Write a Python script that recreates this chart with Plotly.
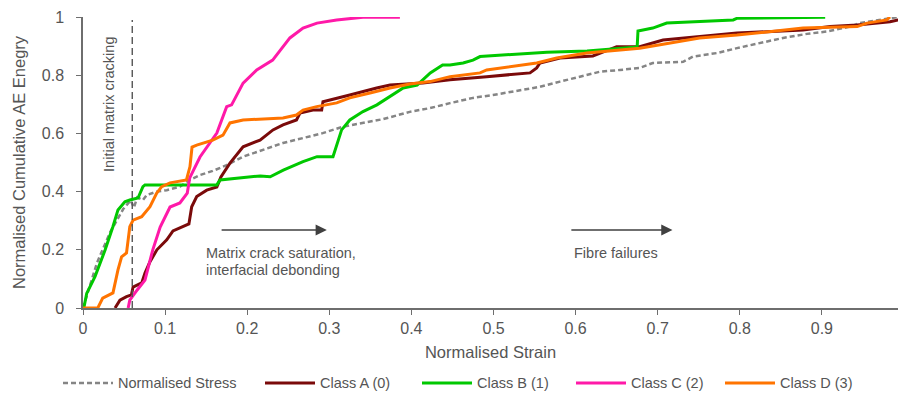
import plotly.graph_objects as go

# ---- data -----------------------------------------------------------------
stress_strain = [0, 0.017, 0.033, 0.049, 0.058, 0.062, 0.066, 0.073, 0.0776, 0.0898, 0.102,
                 0.118, 0.13, 0.1425, 0.158, 0.175, 0.195, 0.219, 0.2436, 0.268, 0.292,
                 0.3167, 0.341, 0.3654, 0.398, 0.4227, 0.447, 0.475, 0.4994, 0.5238,
                 0.5566, 0.581, 0.6054, 0.6297, 0.654, 0.678, 0.694, 0.731, 0.743, 0.772,
                 0.7966, 0.8246, 0.8526, 0.8818, 0.906, 0.934, 0.946, 0.983, 0.993]
stress_value = [0, 0.155, 0.26, 0.34, 0.37, 0.345, 0.38, 0.371, 0.388, 0.4, 0.405,
                0.417, 0.44, 0.457, 0.471, 0.491, 0.52, 0.543, 0.567, 0.584, 0.601,
                0.623, 0.636, 0.649, 0.674, 0.687, 0.704, 0.722, 0.732, 0.743,
                0.76, 0.778, 0.795, 0.812, 0.818, 0.825, 0.842, 0.846, 0.864, 0.876,
                0.893, 0.911, 0.928, 0.942, 0.95, 0.967, 0.979, 0.996, 1.0]

class_a_strain = [0.039, 0.045, 0.053, 0.059, 0.061, 0.0715, 0.0755, 0.0816, 0.09, 0.102,
                  0.1096, 0.122, 0.129, 0.1324, 0.1385, 0.1507, 0.163, 0.168, 0.179, 0.195,
                  0.2156, 0.2314, 0.2436, 0.26, 0.2643, 0.28, 0.2907, 0.2923, 0.309, 0.325,
                  0.3577, 0.374, 0.414, 0.447, 0.4917, 0.5445, 0.5526, 0.5566, 0.581,
                  0.621, 0.63, 0.65, 0.678, 0.7065, 0.7515, 0.7966, 0.877, 0.91, 0.943,
                  0.983, 0.993]
class_a_energy = [0, 0.027, 0.039, 0.045, 0.072, 0.086, 0.12, 0.159, 0.2, 0.234,
                  0.265, 0.279, 0.289, 0.348, 0.383, 0.405, 0.416, 0.45, 0.498, 0.554,
                  0.577, 0.612, 0.629, 0.646, 0.67, 0.68, 0.68, 0.709, 0.722, 0.732,
                  0.756, 0.766, 0.773, 0.784, 0.795, 0.808, 0.825, 0.842, 0.859,
                  0.866, 0.876, 0.898, 0.898, 0.921, 0.933, 0.945, 0.955, 0.967, 0.9725,
                  0.984, 0.99]

class_b_strain = [0.001, 0.0045, 0.0146, 0.027, 0.0365, 0.0426, 0.051, 0.057, 0.067, 0.073,
                  0.0755, 0.163, 0.167, 0.216, 0.228, 0.244, 0.268, 0.285, 0.3045, 0.315,
                  0.325, 0.341, 0.358, 0.374, 0.39, 0.407, 0.423, 0.438, 0.447, 0.463,
                  0.475, 0.4836, 0.516, 0.565, 0.614, 0.675, 0.676, 0.694, 0.711, 0.792,
                  0.797, 0.904]
class_b_energy = [0, 0.05, 0.108, 0.2, 0.28, 0.337, 0.365, 0.371, 0.378, 0.417,
                  0.423, 0.423, 0.44, 0.454, 0.451, 0.474, 0.503, 0.52, 0.52, 0.612,
                  0.646, 0.675, 0.698, 0.726, 0.756, 0.766, 0.808, 0.835, 0.835, 0.842,
                  0.852, 0.864, 0.869, 0.879, 0.883, 0.897, 0.952, 0.962, 0.979, 0.99,
                  0.996, 0.999]

class_c_strain = [0.055, 0.057, 0.066, 0.0755, 0.085, 0.094, 0.106, 0.118, 0.127, 0.13,
                  0.1425, 0.163, 0.175, 0.181, 0.195, 0.2116, 0.231, 0.252, 0.268, 0.285,
                  0.309, 0.341, 0.386]
class_c_energy = [0, 0.027, 0.062, 0.096, 0.2, 0.278, 0.347, 0.361, 0.395, 0.447,
                  0.519, 0.601, 0.692, 0.698, 0.773, 0.818, 0.852, 0.928, 0.962, 0.979,
                  0.99, 0.999, 0.999]

class_d_strain = [0, 0.018, 0.024, 0.0365, 0.0426, 0.047, 0.053, 0.057, 0.061, 0.0715,
                  0.0816, 0.0898, 0.0959, 0.106, 0.126, 0.1303, 0.1328, 0.1385, 0.158,
                  0.1705, 0.179, 0.195, 0.2436, 0.26, 0.268, 0.2846, 0.309, 0.325, 0.3496,
                  0.374, 0.398, 0.4227, 0.447, 0.4836, 0.4917, 0.5526, 0.577, 0.6135,
                  0.678, 0.715, 0.751, 0.7966, 0.837, 0.877, 0.943, 0.955, 0.979, 0.983]
class_d_energy = [0, 0, 0.034, 0.052, 0.131, 0.176, 0.189, 0.279, 0.302, 0.314,
                  0.348, 0.395, 0.417, 0.43, 0.44, 0.486, 0.553, 0.56, 0.577,
                  0.594, 0.636, 0.646, 0.653, 0.663, 0.68, 0.692, 0.705, 0.722, 0.739,
                  0.756, 0.77, 0.778, 0.795, 0.808, 0.818, 0.842, 0.859, 0.876,
                  0.893, 0.911, 0.928, 0.938, 0.95, 0.962, 0.967, 0.979, 0.99, 1.0]

series_names = ["Normalised Stress", "Class A (0)", "Class B (1)", "Class C (2)", "Class D (3)"]
x_ticks = [0, 0.1, 0.2, 0.3, 0.4, 0.5, 0.6, 0.7, 0.8, 0.9]
y_ticks = [0, 0.2, 0.4, 0.6, 0.8, 1]
initial_cracking_strain = 0.06

# ---- styling --------------------------------------------------------------
FONT = "Liberation Sans, Arial, sans-serif"
TEXT = "#555555"
AXIS = "#6e6e6e"
W, H = 898, 395
L, R, T, B = 83, 0, 17, 87

styles = [
    dict(color="#858585", width=2.5, dash="5px,3px"),
    dict(color="#7a0a0a", width=3),
    dict(color="#00c800", width=3),
    dict(color="#ff19a8", width=3),
    dict(color="#ff7400", width=3),
]
series = [
    (stress_strain, stress_value),
    (class_a_strain, class_a_energy),
    (class_b_strain, class_b_energy),
    (class_c_strain, class_c_energy),
    (class_d_strain, class_d_energy),
]

fig = go.Figure()
for name, (xs, ys), st in zip(series_names, series, styles):
    fig.add_trace(go.Scatter(x=xs, y=ys, mode="lines", name=name, line=st,
                             showlegend=False, hoverinfo="skip"))

# vertical marker for the onset of matrix cracking
fig.add_shape(type="line", xref="x", yref="y", x0=initial_cracking_strain,
              x1=initial_cracking_strain, y0=0, y1=0.99,
              line=dict(color="#555555", width=1.4, dash="7px,4px"))
fig.add_annotation(x=0.0317, y=0.698, xref="x", yref="y", text="Initial matrix cracking",
                   textangle=-90, showarrow=False,
                   font=dict(family=FONT, size=14.5, color=TEXT))

# damage-stage arrows and labels
for x_tail, x_head, lines, x_text in [
    (0.167, 0.297, ["Matrix crack saturation,", "interfacial debonding"], 0.147),
    (0.593, 0.718, ["Fibre failures"], 0.596),
]:
    fig.add_annotation(x=x_head, y=0.268, ax=x_tail, ay=0.268, xref="x", yref="y",
                       axref="x", ayref="y", text="", showarrow=True, arrowhead=2,
                       arrowsize=1.6, arrowwidth=1.4, arrowcolor="#404040")
    for i, ln in enumerate(lines):
        fig.add_annotation(x=x_text, y=0.189 - i * 0.06, xref="x", yref="y", text=ln,
                           showarrow=False, xanchor="left", yanchor="middle",
                           font=dict(family=FONT, size=14.5, color=TEXT))

# legend row below the axes
pw, ph = W - L - R, H - T - B
def px_x(p):
    return (p - L) / pw
def px_y(p):
    return (H - B - p) / ph

legend_x = [63, 265, 422, 576, 725]
legend_y = 383
for name, st, lx in zip(series_names, styles, legend_x):
    fig.add_shape(type="line", xref="paper", yref="paper",
                  x0=px_x(lx), x1=px_x(lx + 50), y0=px_y(legend_y), y1=px_y(legend_y),
                  line=st)
    fig.add_annotation(xref="paper", yref="paper", x=px_x(lx + 53), y=px_y(legend_y),
                       text=name, showarrow=False, xanchor="left", yanchor="middle",
                       font=dict(family=FONT, size=14.5, color=TEXT))

axis_common = dict(showgrid=False, zeroline=False, showline=True, linecolor=AXIS,
                   linewidth=1.5, ticks="outside", ticklen=5, tickcolor=AXIS,
                   tickwidth=1.2, tickfont=dict(family=FONT, size=16, color=TEXT))

fig.update_layout(
    width=W, height=H,
    margin=dict(l=L, r=R, t=T, b=B, pad=0),
    paper_bgcolor="white", plot_bgcolor="white",
    showlegend=False,
    xaxis=dict(range=[0, 0.9927], tickvals=x_ticks,
               ticktext=[f"{v:g}" for v in x_ticks],
               title=dict(text="Normalised Strain", standoff=10,
                          font=dict(family=FONT, size=16.5, color=TEXT)),
               **axis_common),
    yaxis=dict(range=[0, 1.0], tickvals=y_ticks,
               ticktext=[f"{v:g}" for v in y_ticks], ticklabelstandoff=9,
               title=dict(text="Normalised Cumulative AE Enegry", standoff=12,
                          font=dict(family=FONT, size=16.5, color=TEXT)),
               **axis_common),
)

fig.write_html("out.html")
